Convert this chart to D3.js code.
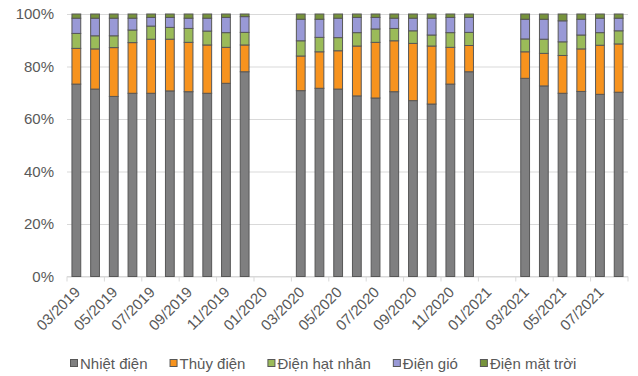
<!DOCTYPE html>
<html>
<head>
<meta charset="utf-8">
<script src="https://cdn.jsdelivr.net/npm/d3@7"></script>
<style>
  html, body { margin: 0; padding: 0; background: #ffffff; }
  svg { display: block; }
  text { font-family: "Liberation Sans", Arial, sans-serif; fill: #595959; }
</style>
</head>
<body>
<svg id="chart" width="638" height="376"></svg>
<script>
// Monthly categories (January and February have no data)
const months = [
  "03/2019","04/2019","05/2019","06/2019","07/2019","08/2019","09/2019","10/2019","11/2019","12/2019",
  "01/2020","02/2020",
  "03/2020","04/2020","05/2020","06/2020","07/2020","08/2020","09/2020","10/2020","11/2020","12/2020",
  "01/2021","02/2021",
  "03/2021","04/2021","05/2021","06/2021","07/2021","08/2021"
];

// Labels shown on the category axis (every second month)
const tickLabels = [
  "03/2019","05/2019","07/2019","09/2019","11/2019","01/2020","03/2020","05/2020",
  "07/2020","09/2020","11/2020","01/2021","03/2021","05/2021","07/2021"
];

// Share of generation by source, in percent
const nhietDien = [73.3,71.4,68.6,69.8,69.8,70.7,70.4,69.8,73.6,78.0, null,null,
  70.8,71.7,71.4,68.8,68.0,70.4,67.0,65.7,73.3,78.0, null,null,
  75.5,72.6,69.8,70.5,69.4,70.2];
const thuyDien = [13.6,15.3,18.6,19.3,20.6,19.7,18.8,18.4,13.7,10.2, null,null,
  13.2,13.9,14.6,19.0,21.2,19.4,21.8,22.1,14.0,10.0, null,null,
  10.1,12.4,14.4,16.2,18.7,18.4];
const hatNhan = [5.7,5.0,4.5,4.8,5.0,4.5,5.3,5.3,5.6,4.8, null,null,
  5.8,5.5,5.0,5.1,5.1,4.7,4.8,4.2,5.6,5.0, null,null,
  4.9,5.4,5.2,5.3,4.8,5.0];
const dienGio = [5.8,6.7,6.7,4.5,3.3,3.8,3.9,4.9,5.8,6.0, null,null,
  8.2,6.9,7.4,5.8,4.4,3.9,4.8,6.4,5.8,5.7, null,null,
  7.5,7.6,8.0,6.0,5.5,4.8];
const matTroi = [1.6,1.6,1.6,1.6,1.3,1.3,1.6,1.6,1.3,1.0, null,null,
  2.0,2.0,1.6,1.3,1.3,1.6,1.6,1.6,1.3,1.3, null,null,
  2.0,2.0,2.6,2.0,1.6,1.6];

const seriesNames = ["Nhiệt điện","Thủy điện","Điện hạt nhân","Điện gió","Điện mặt trời"];
const seriesValues = [nhietDien, thuyDien, hatNhan, dienGio, matTroi];
const seriesColors = ["#7f7f80","#f7931e","#9bbb59","#9999d6","#77933c"];

const yTicks = [0, 20, 40, 60, 80, 100];

// Plot area bounds
const plotLeft = 67, plotRight = 628, plotTop = 14, plotBottom = 276.5;

const svg = d3.select("#chart");

// Table of rows for stacking
const rows = months.map((m, i) => {
  const r = { month: m, hasData: nhietDien[i] !== null };
  seriesNames.forEach((s, k) => { r[s] = seriesValues[k][i] || 0; });
  return r;
});

const x = d3.scaleBand().domain(months).range([plotLeft, plotRight]).padding(0);
const y = d3.scaleLinear().domain([0, 100]).range([plotBottom, plotTop]);

// Gridlines and percentage labels
const yAxis = d3.axisLeft(y)
  .tickValues(yTicks)
  .tickSize(-(plotRight - plotLeft))
  .tickPadding(13)
  .tickFormat(d => d + "%");

const gy = svg.append("g")
  .attr("transform", `translate(${plotLeft},0)`)
  .call(yAxis);
gy.select(".domain").remove();
gy.selectAll(".tick line").attr("stroke", "#d9d9d9").attr("stroke-width", 1);
gy.selectAll(".tick text")
  .attr("font-size", 15)
  .attr("font-family", "'Liberation Sans', Arial, sans-serif")
  .attr("fill", "#595959");

// Category axis: baseline and tick marks at every second boundary
const boundaries = d3.range(0, months.length + 1, 2).map(i => plotLeft + i * x.step());
svg.append("g").selectAll("line")
  .data(boundaries)
  .join("line")
  .attr("x1", d => d).attr("x2", d => d)
  .attr("y1", plotBottom).attr("y2", plotBottom + 5)
  .attr("stroke", "#d9d9d9");

svg.append("line")
  .attr("x1", plotLeft).attr("x2", plotRight)
  .attr("y1", plotBottom).attr("y2", plotBottom)
  .attr("stroke", "#d9d9d9");

// Stacked bars
const stacked = d3.stack().keys(seriesNames)(rows);
const barW = x.bandwidth() * 0.47;

svg.append("g").selectAll("g")
  .data(stacked)
  .join("g")
  .attr("fill", (d, i) => seriesColors[i])
  .selectAll("rect")
  .data(d => d.filter(p => p.data.hasData))
  .join("rect")
  .attr("x", d => x(d.data.month) + (x.bandwidth() - barW) / 2)
  .attr("width", barW)
  .attr("y", d => y(d[1]))
  .attr("height", d => y(d[0]) - y(d[1]))
  .attr("stroke", "#575757")
  .attr("stroke-width", 1);

// Rotated month labels
svg.append("g").selectAll("text")
  .data(tickLabels)
  .join("text")
  .attr("transform", d => `translate(${x(d) + x.bandwidth() / 2 + 1},${plotBottom + 13}) rotate(-45)`)
  .attr("text-anchor", "end")
  .attr("font-size", 15)
  .attr("dy", "0.35em")
  .text(d => d);

// Legend
const legend = svg.append("g").attr("transform", "translate(0,364)");
let lx = 70;
seriesNames.forEach((name, i) => {
  const item = legend.append("g").attr("transform", `translate(${lx},0)`);
  item.append("rect")
    .attr("x", 0.5).attr("y", -4.5)
    .attr("width", 7).attr("height", 7)
    .attr("fill", seriesColors[i])
    .attr("stroke", "#575757");
  const t = item.append("text")
    .attr("x", 10)
    .attr("dy", "0.35em")
    .attr("font-size", 15)
    .text(name);
  lx += 10 + t.node().getComputedTextLength() + 22;
});
</script>
</body>
</html>
